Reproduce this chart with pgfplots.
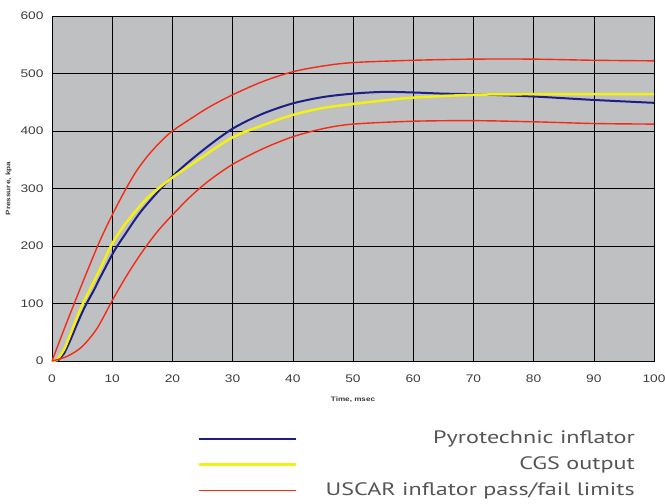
\documentclass[border=0pt]{standalone}
\usepackage{pgfplots}
\pgfplotsset{compat=1.18}
\usepackage{fontspec}
\setmainfont{Liberation Sans}[FakeStretch=1.25]
\newfontfamily\legfont{PT Sans}[FakeStretch=1.34]
\definecolor{bggray}{RGB}{190,192,194}
\definecolor{pyroblue}{RGB}{30,30,135}
\definecolor{cgsyellow}{RGB}{245,240,20}
\definecolor{limred}{RGB}{245,42,23}
\definecolor{txtgray}{RGB}{60,60,60}
\definecolor{leggray}{RGB}{85,85,85}
\begin{document}
\begin{tikzpicture}
\path[use as bounding box] (-52pt,-143pt) rectangle (613pt,361pt);
\begin{axis}[
  at={(0,0)}, anchor=south west,
  scale only axis, width=602pt, height=345pt,
  xmin=0, xmax=100, ymin=0, ymax=600,
  xtick={0,10,...,100}, ytick={0,100,...,600},
  grid=major, major grid style={black, line width=0.5pt},
  axis background/.style={fill=bggray},
  axis line style={black, line width=0.4pt},
  tick style={draw=none},
  ticklabel style={font=\fontsize{11}{13}\selectfont, text=txtgray},
  /pgf/number format/assume math mode=true,
  xticklabel style={yshift=-10pt},
  yticklabel style={xshift=-5pt},
  xlabel={\textbf{Time, msec}},
  ylabel={\textbf{Pressure, kpa}},
  label style={font=\fontsize{6.5}{8}\selectfont, text=txtgray},
  xlabel style={yshift=-8pt},
  ylabel style={yshift=2pt},
  legend cell align=right,
  legend image code/.code={\draw[#1] (0pt,0pt) -- (97pt,0pt);},
  legend style={draw=none, fill=none, at={(143pt,-68pt)}, anchor=north west,
    font=\legfont\fontsize{18}{21}\selectfont, text=leggray,
    column sep=28pt, row sep=11pt,
    nodes={inner sep=0pt, text height=12pt, text depth=3pt}},
]
\addplot[pyroblue, line width=2pt, smooth] coordinates {
(0,0) (1,1) (1.6,8) (2,13) (3,35) (4,60) (5,84) (5.75,100) (7,124) (8,145) (10,185) (10.85,200) (12,218) (15,263) (20,321) (25,366) (30,404) (35,430) (40,448) (45,459) (50,465) (55,468) (60,467) (65,465) (70,464) (80,460) (90,454) (100,449)};
\addlegendentry{Pyrotechnic inflator}
\addplot[cgsyellow, line width=2.5pt, smooth] coordinates {
(0,0) (0.8,2) (2,20) (3,45) (4,72) (5,97) (6,118) (8,160) (10,204) (12,236) (14,262) (16,285) (18,303) (20,319) (25,355) (30,389) (35,410) (40,428) (45,440) (50,447) (55,453) (60,458) (70,463) (80,464) (90,464) (100,464)};
\addlegendentry{CGS output}
\addplot[limred, line width=1.4pt, smooth] coordinates {
(0,0) (2,55) (4,108) (6,160) (8,210) (10,254) (12,294) (14,330) (16,358) (18,381) (20,400) (23,421) (26,441) (30,463) (35,486) (40,503) (45,513) (50,519) (60,523) (70,525) (80,525) (90,523) (100,522)};
\addlegendentry{USCAR inflator pass/fail limits}
\addplot[limred, line width=1.4pt, smooth, forget plot] coordinates {
(0,0) (2.5,8) (5,25) (7.5,57) (10,105) (12.5,150) (15,190) (17.5,225) (20,254) (23,286) (26,313) (30,342) (35,369) (40,390) (45,404) (50,412) (60,417) (70,418) (80,416) (90,413) (100,412)};
\end{axis}
\end{tikzpicture}
\end{document}
